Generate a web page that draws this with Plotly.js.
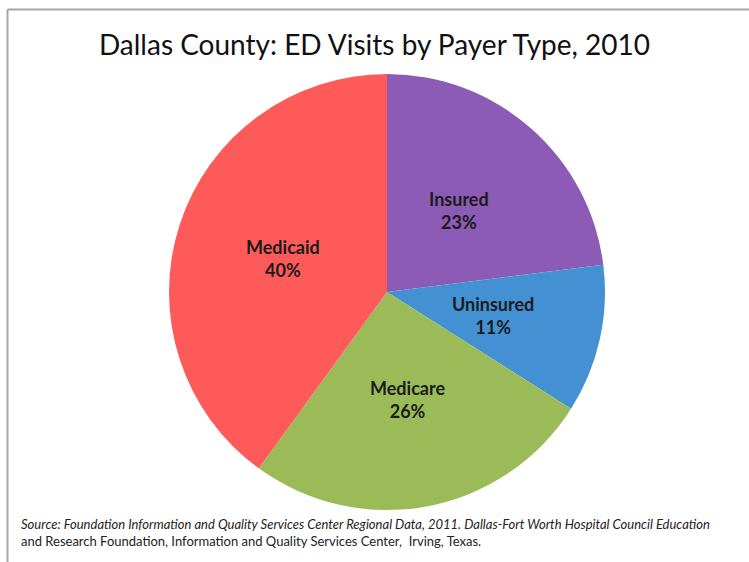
<!DOCTYPE html>
<html>
<head>
<meta charset="utf-8">
<script src="https://cdn.plot.ly/plotly-3.0.1.min.js"></script>
<style>html,body{margin:0;padding:0;background:#fff;}#chart{width:749px;height:562px;}</style>
</head>
<body>
<div id="chart"></div>
<script>
const categories = ["Insured", "Uninsured", "Medicare", "Medicaid"];
const shares = [23, 11, 26, 40];
const sliceColors = ["#8C5BB5", "#4391D2", "#9BBB59", "#FF5A5A"];
const titleText = "Dallas County: ED Visits by Payer Type, 2010";
const sourceLines = [
  "Source: Foundation Information and Quality Services Center Regional Data, 2011. Dallas-Fort Worth Hospital Council Education",
  "and Research Foundation, Information and Quality Services Center,  Irving, Texas."
];

const W = 749, H = 562;
// pie box in pixels
const pieLeft = 169, pieRight = 605, pieTop = 74, pieBottom = 510;
const domX = [pieLeft / W, pieRight / W];
const domY = [1 - pieBottom / H, 1 - pieTop / H];

const trace = {
  type: "pie",
  labels: categories,
  values: shares,
  sort: false,
  direction: "clockwise",
  rotation: 0,
  marker: {colors: sliceColors, line: {width: 0}},
  textinfo: "none",
  hoverinfo: "none",
  domain: {x: domX, y: domY}
};

// labels placed on each slice bisector at half the radius (derived from the data)
const total = shares.reduce((a, b) => a + b, 0);
const cx = (pieLeft + pieRight) / 2, cy = (pieTop + pieBottom) / 2;
const R = Math.min(pieRight - pieLeft, pieBottom - pieTop) / 2;
let cum = 0;
const labelAnns = categories.map((c, i) => {
  const mid = (cum + shares[i] / 2) / total * 2 * Math.PI;
  cum += shares[i];
  const px = cx + 0.5 * R * Math.sin(mid);
  const py = cy - 0.5 * R * Math.cos(mid);
  const pct = Math.round(shares[i] / total * 100);
  return {
    xref: "paper", yref: "paper", x: px / W, y: 1 - py / H,
    xanchor: "center", yanchor: "middle", showarrow: false, align: "center",
    text: "<b>" + c + "</b><br><b>" + pct + "%</b>",
    font: {family: "Lato, 'Open Sans', sans-serif", size: 18, color: "#1b1b1b"}
  };
});

const layout = {
  width: W, height: H,
  margin: {l: 0, r: 0, t: 0, b: 0},
  paper_bgcolor: "#ffffff",
  showlegend: false,
  title: {
    text: titleText,
    font: {family: "Lato, 'Open Sans', sans-serif", size: 28, color: "#111111"},
    x: 0.5, xanchor: "center", y: 1 - 45/H, yanchor: "middle"
  },
  annotations: labelAnns.concat([{
    xref: "paper", yref: "paper",
    x: 19/W, y: 1 - 514/H, xanchor: "left", yanchor: "top", align: "left",
    showarrow: false,
    text: "<i>" + sourceLines[0] + "</i><br>" + sourceLines[1],
    font: {family: "Lato, 'Open Sans', sans-serif", size: 13, color: "#222222"}
  }]),
  shapes: [
    {type: "line", xref: "paper", yref: "paper", x0: 7.5/W, x1: 7.5/W, y0: 0, y1: 1 - 9.5/H, line: {color: "#a6a6a6", width: 2}},
    {type: "line", xref: "paper", yref: "paper", x0: 7.5/W, x1: 1, y0: 1 - 9.5/H, y1: 1 - 9.5/H, line: {color: "#a6a6a6", width: 2}}
  ]
};

Plotly.newPlot("chart", [trace], layout, {staticPlot: true, displayModeBar: false});
</script>
</body>
</html>
